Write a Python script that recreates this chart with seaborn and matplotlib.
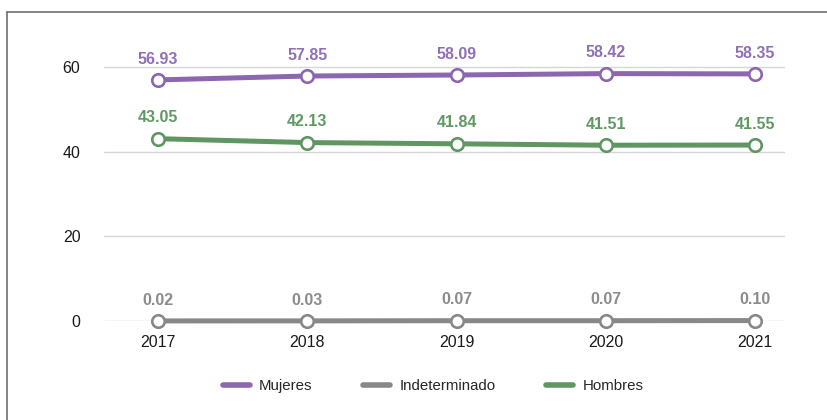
import matplotlib
matplotlib.use("Agg")
import matplotlib.pyplot as plt
from matplotlib.lines import Line2D
import seaborn as sns
import pandas as pd

years = [2017, 2018, 2019, 2020, 2021]
mujeres = [56.93, 57.85, 58.09, 58.42, 58.35]
indeterminado = [0.02, 0.03, 0.07, 0.07, 0.10]
hombres = [43.05, 42.13, 41.84, 41.51, 41.55]
series_names = ["Mujeres", "Indeterminado", "Hombres"]
y_ticks = [0, 20, 40, 60]

line_colors = {"Mujeres": "#8c67b0", "Indeterminado": "#888888", "Hombres": "#5f9662"}
label_colors = {"Mujeres": "#9070b6", "Indeterminado": "#8c8c8c", "Hombres": "#5f9a62"}

df = pd.DataFrame({
    "year": years * 3,
    "value": mujeres + indeterminado + hombres,
    "serie": [s for s in series_names for _ in years],
})

sns.set_theme(style="white")
plt.rcParams["font.family"] = ["Liberation Sans", "DejaVu Sans"]

fig = plt.figure(figsize=(8.28, 4.2), dpi=100)
ax = fig.add_axes([104 / 828, 1 - 321 / 420, (785 - 104) / 828, (321 - 41.5) / 420])

for name in series_names:
    sub = df[df["serie"] == name]
    c = line_colors[name]
    sns.lineplot(data=sub, x="year", y="value", ax=ax, color=c, linewidth=3.6,
                 marker="o", markersize=9, markerfacecolor="white",
                 markeredgecolor=c, markeredgewidth=1.9, clip_on=False,
                 zorder=3, legend=False)
    for x, v in zip(sub["year"], sub["value"]):
        ax.annotate(f"{v:.2f}", (x, v), xytext=(0, 15), textcoords="offset points",
                    ha="center", va="center", fontsize=11.5, fontweight="bold",
                    color=label_colors[name])

ax.set_xlim(2016.638, 2021.2)
ax.set_ylim(0, 66)
ax.set_yticks(y_ticks)
ax.set_yticklabels([str(t) for t in y_ticks])
ax.set_xticks(years)
ax.set_xticklabels([str(y) for y in years])
ax.set_xlabel("")
ax.set_ylabel("")
ax.grid(axis="y", color="#d6d6d6", linewidth=1.0, zorder=0)
ax.grid(axis="x", visible=False)
for sp in ax.spines.values():
    sp.set_visible(False)
ax.tick_params(axis="y", length=0, pad=17, labelsize=11.5, labelcolor="#1a1a1a")
ax.tick_params(axis="x", length=0, pad=10, labelsize=11.5, labelcolor="#1a1a1a")

handles = [Line2D([], [], color=line_colors[n], linewidth=4, solid_capstyle="round")
           for n in series_names]
fig.legend(handles, series_names, loc="center", bbox_to_anchor=(433 / 828, 1 - 386 / 420),
           ncol=3, frameon=False, fontsize=10.8, handlelength=1.8,
           handletextpad=0.6, columnspacing=3.4)

# outer frame (left and top edges)
fig.add_artist(Line2D([7 / 828, 7 / 828], [0, 1 - 12 / 420], transform=fig.transFigure,
                      color="#6e6e6e", linewidth=1.2))
fig.add_artist(Line2D([7 / 828, 1], [1 - 12 / 420, 1 - 12 / 420], transform=fig.transFigure,
                      color="#6e6e6e", linewidth=1.2))

fig.savefig("out.png", dpi=100)
